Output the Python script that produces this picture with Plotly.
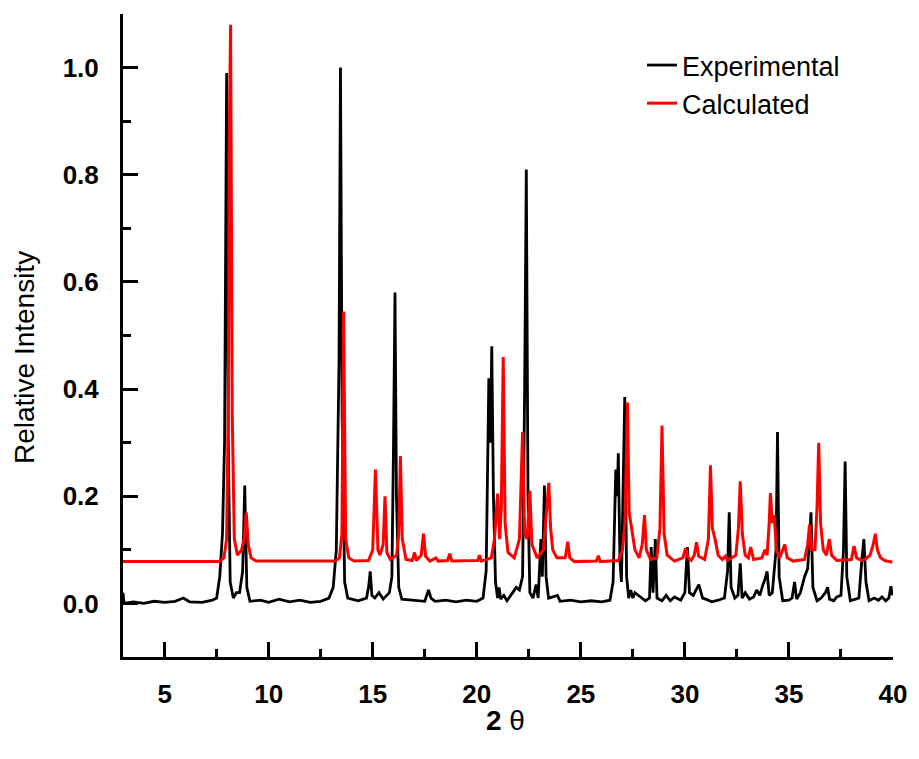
import plotly.graph_objects as go

# ---- Experimental pattern ----
exp_two_theta = [
    3.0, 3.05, 3.5, 4.0, 4.5, 5.0, 5.5, 5.9, 6.2, 6.8, 7.3, 7.5, 7.65, 7.78, 7.88, 7.98, 8.06, 8.15,
    8.3, 8.45, 8.6, 8.75, 8.85, 8.95, 9.1, 9.6, 10.0, 10.5, 11.0, 11.5, 12.0, 12.5, 12.9, 13.1,
    13.25, 13.38, 13.45, 13.53, 13.65, 13.8, 14.3, 14.7, 14.8, 14.88, 14.96, 15.1, 15.3, 15.5,
    15.8, 15.92, 16.0, 16.07, 16.14, 16.25, 16.4, 17.0, 17.5, 17.68, 17.8, 18.0, 18.5, 19.0,
    19.5, 20.0, 20.3, 20.45, 20.58, 20.65, 20.72, 20.8, 20.9, 21.0, 21.07, 21.15, 21.3, 21.45,
    21.7, 21.9, 22.05, 22.2, 22.3, 22.38, 22.46, 22.55, 22.7, 22.85, 22.95, 23.08, 23.15, 23.25,
    23.33, 23.45, 23.88, 24.0, 24.5, 25.0, 25.5, 26.0, 26.4, 26.55, 26.68, 26.75, 26.8, 26.88,
    26.95, 27.03, 27.11, 27.2, 27.3, 27.4, 27.5, 27.6, 27.85, 28.1, 28.3, 28.38, 28.47, 28.58,
    28.66, 28.9, 29.1, 29.3, 29.5, 29.8, 30.0, 30.12, 30.22, 30.4, 30.67, 30.85, 31.0, 31.3,
    31.6, 31.9, 32.05, 32.13, 32.22, 32.4, 32.55, 32.66, 32.75, 32.9, 33.1, 33.3, 33.45, 33.6,
    33.75, 33.85, 33.95, 34.05, 34.2, 34.38, 34.45, 34.53, 34.7, 35.0, 35.15, 35.27, 35.37,
    35.55, 35.75, 35.9, 36.06, 36.15, 36.35, 36.55, 36.75, 36.86, 36.95, 37.15, 37.3, 37.5,
    37.62, 37.7, 37.78, 37.95, 38.2, 38.36, 38.5, 38.6, 38.7, 38.85, 39.1, 39.3, 39.47, 39.65,
    39.8, 39.9, 39.97,
]
exp_intensity = [
    0.02, 0.0, 0.003, 0.0, 0.004, 0.002, 0.004, 0.01, 0.003, 0.002, 0.006, 0.01, 0.05, 0.13, 0.3, 0.99, 0.3, 0.04,
    0.01, 0.02, 0.02, 0.06, 0.22, 0.03, 0.004, 0.006, 0.002, 0.008, 0.003, 0.006, 0.002, 0.004, 0.01, 0.03,
    0.1, 0.45, 1.0, 0.35, 0.04, 0.01, 0.005, 0.01, 0.03, 0.06, 0.015, 0.01, 0.02, 0.008,
    0.02, 0.05, 0.3, 0.58, 0.2, 0.03, 0.008, 0.006, 0.004, 0.025, 0.01, 0.004, 0.006, 0.003,
    0.006, 0.004, 0.01, 0.06, 0.42, 0.3, 0.48, 0.2, 0.04, 0.01, 0.03, 0.008, 0.015, 0.005,
    0.02, 0.03, 0.025, 0.05, 0.4, 0.81, 0.2, 0.02, 0.01, 0.035, 0.01, 0.12, 0.05, 0.22,
    0.05, 0.01, 0.015, 0.004, 0.006, 0.003, 0.005, 0.003, 0.006, 0.04, 0.25, 0.2, 0.28, 0.08,
    0.04, 0.2, 0.385, 0.05, 0.01, 0.025, 0.01, 0.02, 0.012, 0.005, 0.01, 0.105, 0.02, 0.12,
    0.01, 0.005, 0.015, 0.005, 0.012, 0.006, 0.02, 0.105, 0.02, 0.015, 0.035, 0.01, 0.008, 0.003,
    0.006, 0.01, 0.06, 0.17, 0.03, 0.01, 0.015, 0.075, 0.01, 0.02, 0.008, 0.012, 0.025, 0.015,
    0.035, 0.045, 0.06, 0.015, 0.02, 0.1, 0.32, 0.05, 0.005, 0.006, 0.01, 0.04, 0.008,
    0.02, 0.05, 0.065, 0.17, 0.03, 0.005, 0.01, 0.02, 0.03, 0.008, 0.005, 0.012, 0.015,
    0.1, 0.265, 0.05, 0.005, 0.008, 0.01, 0.08, 0.12, 0.04, 0.005, 0.01, 0.006, 0.012, 0.005,
    0.01, 0.032, 0.015,
]

# ---- Calculated pattern (includes vertical offset) ----
calc_two_theta = [
    3.0, 7.6, 7.85, 7.98, 8.07, 8.1, 8.17, 8.25, 8.35, 8.5, 8.7, 8.82, 8.92, 9.02, 9.15, 9.4,
    13.2, 13.4, 13.52, 13.6, 13.7, 13.85, 14.1, 14.8, 15.0, 15.13, 15.25, 15.35, 15.5, 15.59,
    15.68, 15.85, 16.15, 16.25, 16.33, 16.42, 16.6, 16.9, 17.01, 17.1, 17.33, 17.44, 17.54,
    17.75, 18.04, 18.15, 18.6, 18.7, 18.8, 20.05, 20.13, 20.22, 20.7, 20.85, 21.0, 21.1, 21.18,
    21.27, 21.36, 21.5, 21.8, 22.05, 22.2, 22.3, 22.42, 22.55, 22.65, 22.9, 23.2, 23.35, 23.46,
    23.55, 23.65, 23.85, 24.25, 24.37, 24.47, 24.7, 25.75, 25.84, 25.93, 26.8, 27.0, 27.12,
    27.24, 27.32, 27.45, 27.6, 27.8, 27.95, 28.06, 28.15, 28.35, 28.65, 28.8, 28.9, 29.0, 29.15,
    29.5, 29.9, 30.04, 30.15, 30.3, 30.45, 30.56, 30.66, 30.95, 31.13, 31.23, 31.32, 31.45,
    31.6, 31.8, 31.94, 32.05, 32.45, 32.57, 32.66, 32.76, 32.9, 33.05, 33.16, 33.3, 33.7, 33.85,
    33.95, 34.05, 34.11, 34.2, 34.29, 34.4, 34.55, 34.8, 34.92, 35.2, 35.75, 35.9, 35.99, 36.1,
    36.25, 36.35, 36.43, 36.52, 36.65, 36.8, 36.94, 37.05, 37.3, 38.0, 38.13, 38.25, 38.5,
    38.68, 38.9, 39.05, 39.15, 39.25, 39.4, 39.6, 39.97,
]
calc_intensity = [
    0.078, 0.078, 0.085, 0.12, 0.4, 0.85, 1.08, 0.35, 0.12, 0.09, 0.1, 0.12, 0.17, 0.11, 0.085, 0.079,
    0.079, 0.085, 0.13, 0.545, 0.12, 0.085, 0.079, 0.08, 0.1, 0.25, 0.1, 0.09, 0.11, 0.2,
    0.095, 0.082, 0.09, 0.13, 0.275, 0.12, 0.082, 0.08, 0.095, 0.08, 0.09, 0.13, 0.088,
    0.079, 0.085, 0.079, 0.08, 0.093, 0.079, 0.08, 0.09, 0.079, 0.085, 0.12, 0.205, 0.12, 0.18,
    0.46, 0.15, 0.095, 0.085, 0.12, 0.32, 0.13, 0.12, 0.21, 0.11, 0.085, 0.1, 0.17, 0.225,
    0.14, 0.1, 0.085, 0.085, 0.115, 0.085, 0.078, 0.079, 0.089, 0.078, 0.08, 0.1, 0.15,
    0.375, 0.17, 0.14, 0.1, 0.085, 0.11, 0.165, 0.1, 0.082, 0.085, 0.14, 0.332, 0.13, 0.09,
    0.079, 0.085, 0.103, 0.085, 0.08, 0.09, 0.114, 0.088, 0.082, 0.12, 0.258, 0.14, 0.12,
    0.09, 0.082, 0.088, 0.08, 0.09, 0.14, 0.228, 0.13, 0.09, 0.085, 0.105, 0.082, 0.085, 0.1,
    0.09, 0.15, 0.206, 0.15, 0.165, 0.1, 0.085, 0.11, 0.085, 0.079, 0.082, 0.11, 0.147, 0.1,
    0.1, 0.18, 0.30, 0.15, 0.1, 0.09, 0.12, 0.09, 0.08, 0.082, 0.107, 0.085, 0.08,
    0.083, 0.09, 0.11, 0.13, 0.1, 0.085, 0.08, 0.077,
]

x_tick_vals = [5, 10, 15, 20, 25, 30, 35, 40]
y_tick_vals = [0.0, 0.2, 0.4, 0.6, 0.8, 1.0]

FONT = "Liberation Sans, Arial, Helvetica, sans-serif"

fig = go.Figure()
fig.add_trace(go.Scatter(x=exp_two_theta, y=exp_intensity, mode="lines",
                         name="Experimental", line=dict(color="black", width=2.8)))
fig.add_trace(go.Scatter(x=calc_two_theta, y=calc_intensity, mode="lines",
                         name="Calculated", line=dict(color="#ff0000", width=3)))

fig.update_layout(
    width=919, height=759,
    margin=dict(l=123, r=18, t=14, b=102),
    paper_bgcolor="white", plot_bgcolor="white",
    font=dict(family=FONT, color="black"),
    showlegend=True,
    legend=dict(x=0.674, y=0.958, xanchor="left", yanchor="top",
                font=dict(size=27, family=FONT, color="black"),
                bgcolor="rgba(0,0,0,0)", borderwidth=0, tracegroupgap=0),
    annotations=[
        dict(text="Relative Intensity", xref="paper", yref="paper",
             x=-0.1285, y=0.465, xanchor="center", yanchor="middle",
             textangle=-90, showarrow=False,
             font=dict(size=28, family=FONT, color="black")),
        dict(text="<b>2 </b>θ", xref="paper", yref="paper",
             x=0.497, y=-0.098, xanchor="center", yanchor="middle",
             showarrow=False, font=dict(size=28, family=FONT, color="black")),
    ],
)
fig.update_xaxes(
    range=[3, 40], tickvals=x_tick_vals, ticktext=[str(v) for v in x_tick_vals],
    showline=True, linewidth=3, linecolor="black", mirror=False,
    ticks="inside", ticklen=15, tickwidth=3, tickcolor="black",
    minor=dict(ticks="inside", ticklen=8, tickwidth=3, tickcolor="black", dtick=2.5, tick0=0),
    showgrid=False, zeroline=False,
    tickfont=dict(size=26, family=FONT, weight="bold"),
    ticklabelstandoff=12,
)
fig.update_yaxes(
    range=[-0.1, 1.1], tickvals=y_tick_vals, ticktext=[f"{v:.1f}" for v in y_tick_vals],
    showline=True, linewidth=3, linecolor="black", mirror=False,
    ticks="inside", ticklen=15, tickwidth=3, tickcolor="black",
    minor=dict(ticks="inside", ticklen=8, tickwidth=3, tickcolor="black", dtick=0.1, tick0=0),
    showgrid=False, zeroline=False,
    tickfont=dict(size=26, family=FONT, weight="bold"),
    ticklabelstandoff=16,
)

fig.write_html("out.html")
